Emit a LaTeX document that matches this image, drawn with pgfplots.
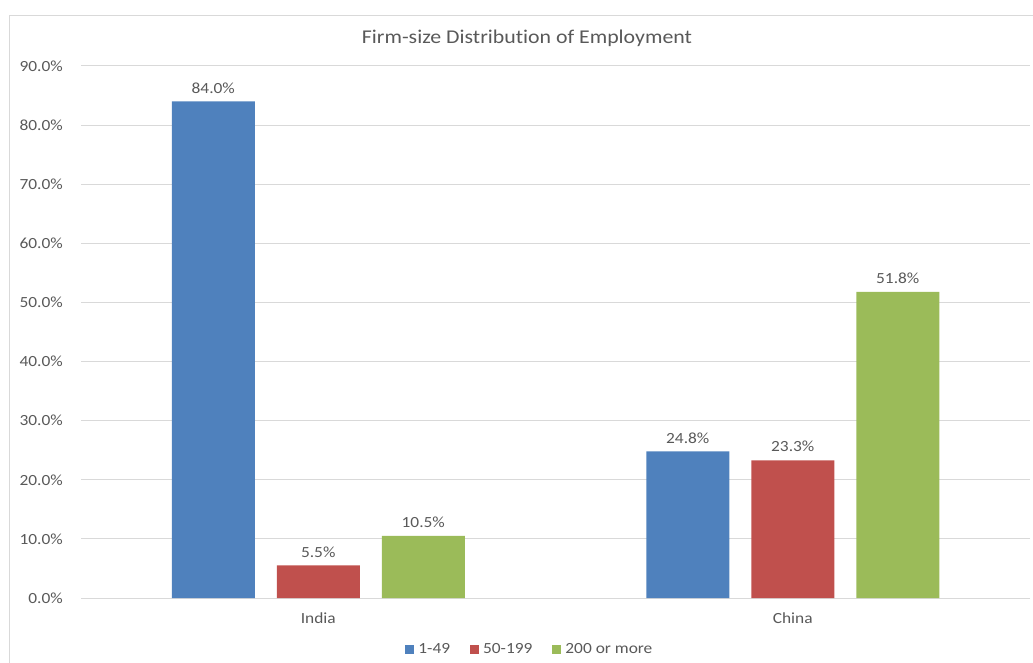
\documentclass[border=0pt]{standalone}
\usepackage{pgfplots}
\pgfplotsset{compat=1.18}
\usepackage{fontspec}
\setmainfont{Carlito}[FakeStretch=1.12, Ligatures=NoCommon]
\definecolor{txt}{HTML}{595959}
\definecolor{cblue}{HTML}{4F81BD}
\definecolor{cred}{HTML}{C0504D}
\definecolor{cgreen}{HTML}{9BBB59}
\definecolor{gridc}{HTML}{D9D9D9}
\begin{document}
\begin{tikzpicture}[x=1pt,y=1pt]
\useasboundingbox (0,0) rectangle (1033,662);
\draw[gridc, line width=1pt] (9,-20) rectangle (1060,646);
\node[txt, font=\fontsize{19.5}{23}\selectfont] at (527,624) {Firm-size Distribution of Employment};
\begin{axis}[
  at={(81pt,64pt)}, anchor=south west,
  scale only axis, width=949pt, height=532pt,
  ybar=22pt, bar width=83pt,
  xmin=-0.5, xmax=1.5, ymin=0, ymax=90,
  xtick={0,1}, xticklabels={India,China},
  ytick={0,10,...,90},
  yticklabels={0.0\%,10.0\%,20.0\%,30.0\%,40.0\%,50.0\%,60.0\%,70.0\%,80.0\%,90.0\%},
  major tick length=0pt,
  ymajorgrids, grid style={gridc, line width=1pt},
  axis x line*=bottom, axis y line*=left,
  x axis line style={gridc, line width=1pt, -},
  y axis line style={draw=none},
  ytick style={draw=none}, xtick style={draw=none},
  tick label style={txt, font=\fontsize{15.5}{18}\selectfont},
  yticklabel style={inner sep=0pt, anchor=east, xshift=-18pt},
  xticklabel style={inner sep=0pt, anchor=north, yshift=-15pt},
  nodes near coords={\pgfmathprintnumber[fixed,fixed zerofill,precision=1]{\pgfplotspointmeta}\%},
  every node near coord/.append style={txt, font=\fontsize{15.5}{18}\selectfont, inner sep=0pt, anchor=south, yshift=8pt},
  /pgf/number format/assume math mode=true,
  legend style={at={(0.473,-0.096)}, anchor=center, draw=none, fill=none,
    legend columns=-1, font=\fontsize{15.5}{18}\selectfont, text=txt,
    /tikz/every even column/.append style={column sep=18pt},
    /tikz/every odd column/.append style={column sep=2pt},
    inner sep=0pt},
  legend image code/.code={\fill[#1] (0pt,-4.5pt) rectangle (9pt,4.5pt);},
]
\addplot[fill=cblue, draw=none] coordinates {(0,84.0) (1,24.8)};
\addplot[fill=cred, draw=none] coordinates {(0,5.5) (1,23.3)};
\addplot[fill=cgreen, draw=none] coordinates {(0,10.5) (1,51.8)};
\legend{1-49,50-199,200 or more}
\end{axis}
\end{tikzpicture}
\end{document}
